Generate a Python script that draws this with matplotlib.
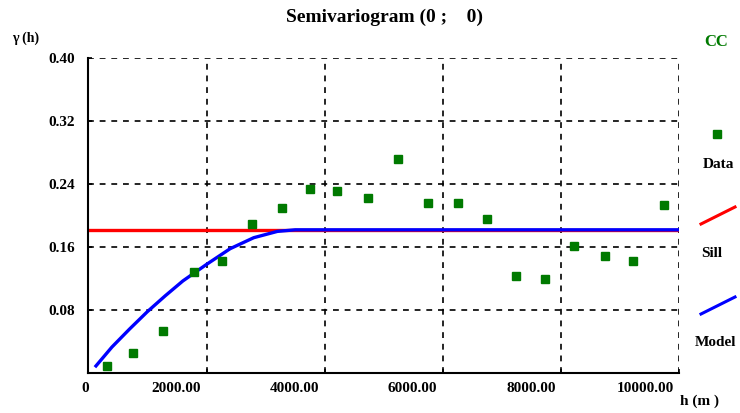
import matplotlib
matplotlib.use("Agg")
import matplotlib.pyplot as plt
from matplotlib.lines import Line2D
from matplotlib.transforms import ScaledTranslation

# Experimental semivariogram points (lag h in m, gamma)
lag_h = [311, 762, 1269, 1789, 2257, 2765, 3272, 3751, 4213, 4738,
         5245, 5753, 6261, 6741, 7237, 7728, 8218, 8743, 9222, 9746]
gamma_data = [0.0085, 0.026, 0.054, 0.128, 0.142, 0.189, 0.210, 0.234, 0.231, 0.223,
              0.272, 0.216, 0.216, 0.196, 0.123, 0.119, 0.161, 0.1485, 0.142, 0.214]

# Fitted model curve
model_h = [130, 400, 700, 1000, 1300, 1600, 2000, 2400, 2800, 3200, 3500, 10000]
model_gamma = [0.009, 0.033, 0.056, 0.078, 0.098, 0.117, 0.138, 0.158, 0.172, 0.180, 0.182, 0.182]

sill_h = [0, 10000]
sill_gamma = [0.182, 0.182]

x_ticks = [0, 2000, 4000, 6000, 8000, 10000]
x_labels = ["0", "2000.00", "4000.00", "6000.00", "8000.00", "10000.00"]
y_ticks = [0.08, 0.16, 0.24, 0.32, 0.40]
y_labels = ["0.08", "0.16", "0.24", "0.32", "0.40"]

green = "#007a00"
font = dict(family="Liberation Serif", fontweight="bold")

W, H = 740, 414
fig = plt.figure(figsize=(W / 100, H / 100), dpi=100)
ax = fig.add_axes([88.3 / W, 1 - 374 / H, (679.3 - 88.3) / W, (374 - 59.3) / H])

ax.set_xlim(0, 10000)
ax.set_ylim(0, 0.40)

# dashed grid, including the top and right borders
for xv in x_ticks[1:]:
    ax.axvline(xv, color="black", linestyle=(0, (3.5, 3.5)), linewidth=1.2, zorder=1)
for yv in y_ticks:
    ax.axhline(yv, color="black", linestyle=(0, (3.5, 3.5)), linewidth=1.2, zorder=1)

ax.plot(sill_h, sill_gamma, color="#ff0000", linewidth=2.4, zorder=2)
ax.plot(model_h, model_gamma, color="#0000ff", linewidth=2.4, zorder=3)
ax.plot(lag_h, gamma_data, linestyle="none", marker="s", markersize=5.2,
        color=green, zorder=4)

for side in ["top", "right"]:
    ax.spines[side].set_visible(False)
for side in ["left", "bottom"]:
    ax.spines[side].set_linewidth(1.5)

ax.set_xticks(x_ticks)
ax.set_yticks(y_ticks)
ax.set_xticklabels([])
ax.set_yticklabels([])
ax.tick_params(axis="both", direction="in", length=3, width=1.2)

# x tick labels: right aligned just left of each tick, "0" centred
xform = ax.get_xaxis_transform()
for xv, lab in zip(x_ticks, x_labels):
    if xv == 0:
        ax.text(xv, -0.025, lab, transform=xform + ScaledTranslation(-2 / 72, 0, fig.dpi_scale_trans),
                ha="center", va="top", fontsize=11, **font)
    else:
        ax.text(xv, -0.025, lab, transform=xform + ScaledTranslation(-4 / 72, 0, fig.dpi_scale_trans),
                ha="right", va="top", fontsize=11, **font)

yform = ax.get_yaxis_transform()
for yv, lab in zip(y_ticks, y_labels):
    ax.text(-0.022, yv, lab, transform=yform, ha="right", va="center", fontsize=11, **font)

fig.text(384 / W, 1 - 17 / H, "Semivariogram (0 ;    0)", ha="center", va="center",
         fontsize=14, **font)
fig.text(12 / W, 1 - 38 / H, "γ (h)", ha="left", va="center", fontsize=10, **font)
fig.text(716 / W, 1 - 42 / H, "CC", ha="center", va="center", fontsize=12,
         color=green, **font)
fig.text(700 / W, 1 - 401 / H, "h (m )", ha="center", va="center", fontsize=11, **font)

# legend on the right
fig.add_artist(Line2D([717 / W], [1 - 135 / H], marker="s", markersize=5.2,
                      color=green, linestyle="none"))
fig.text(718 / W, 1 - 165 / H, "Data", ha="center", va="center", fontsize=11, **font)
fig.add_artist(Line2D([701 / W, 735 / W], [1 - 225 / H, 1 - 208 / H],
                      color="#ff0000", linewidth=2.2))
fig.text(712 / W, 1 - 254 / H, "Sill", ha="center", va="center", fontsize=11, **font)
fig.add_artist(Line2D([701 / W, 735 / W], [1 - 315 / H, 1 - 298 / H],
                      color="#0000ff", linewidth=2.2))
fig.text(716 / W, 1 - 343 / H, "Model", ha="center", va="center", fontsize=11, **font)

fig.savefig("out.png", dpi=100)
